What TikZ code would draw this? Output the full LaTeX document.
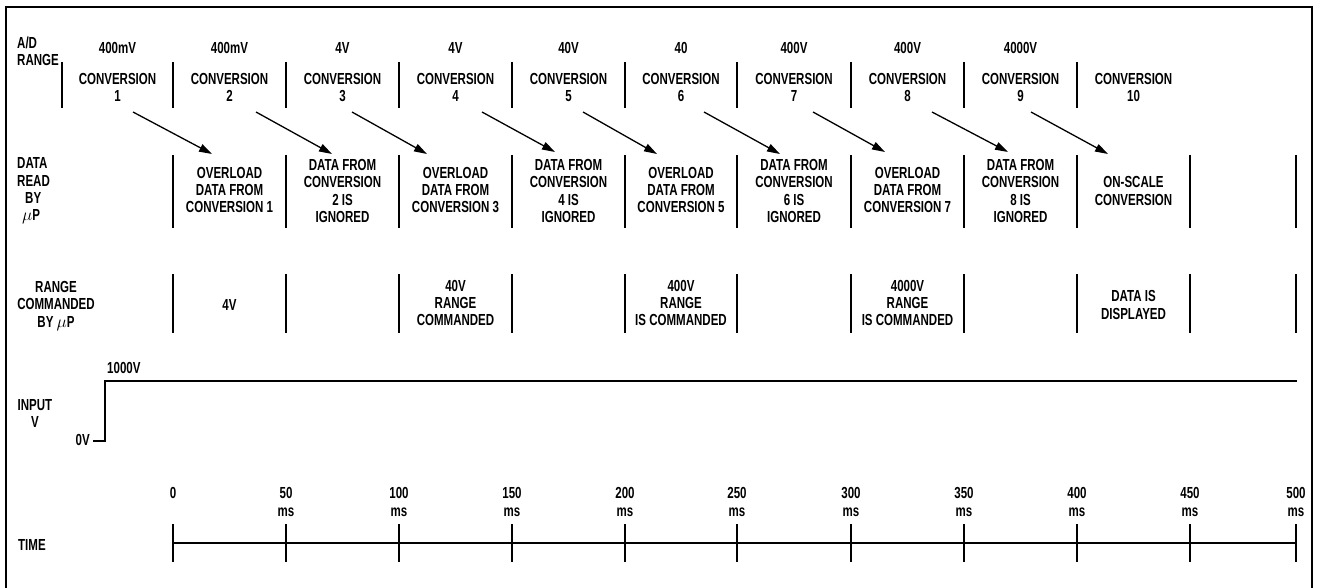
\documentclass[tikz,border=0pt]{standalone}
\usepackage{fontspec}
\setmainfont{Liberation Sans}[FakeStretch=0.72]
\usetikzlibrary{arrows.meta}
\begin{document}
\begin{tikzpicture}[x=1pt,y=-1pt,
  lbl/.style={font=\fontsize{16}{17.3}\selectfont\bfseries, inner sep=0pt, align=center},
  lbll/.style={font=\fontsize{16}{17.3}\selectfont\bfseries, inner sep=0pt, align=left},
  sep/.style={line width=1.9pt},
  frame/.style={line width=1.4pt},
  wave/.style={line width=1.5pt},
  conn/.style={line width=1.3pt, -{Triangle[length=13pt,width=8pt]}}]
\useasboundingbox (0,0) rectangle (1317,588);
% frame
\draw[frame] (6,588) -- (6,7) -- (1312,7) -- (1312,588);
% left labels
\node[lbll, anchor=west] (lAD) at (17,51) {A/D\\RANGE};
\node[lbll, anchor=west] (lDR) at (17,191) {DATA\\READ\\\hspace*{8pt}BY\\\hspace*{5pt}$\mu$P};
\node[lbl] (lRC) at (56,306) {RANGE\\COMMANDED\\BY $\mu$P};
\node[lbl] (lIN) at (35,413.5) {INPUT\\V};
\node[lbll, anchor=west] (lT) at (18,545) {TIME};
% row 1 separators
\foreach \x in {62,173,286,399,512,625,737,851,964,1077}
  \draw[sep] (\x,62) -- (\x,108);
% rows 2 and 3 separators
\foreach \x in {173,286,399,512,625,737,851,964,1077,1190,1296} {
  \draw[sep] (\x,155) -- (\x,228);
  \draw[sep] (\x,274) -- (\x,333);
}
% range values
\foreach \c/\t [count=\i] in {117.5/400mV,229.5/400mV,342.5/4V,455.5/4V,568.5/40V,681/40,794/400V,907.5/400V,1020.5/4000V}
  \node[lbl] (rng\i) at (\c,48) {\t};
% conversions
\foreach \c [count=\i] in {117.5,229.5,342.5,455.5,568.5,681,794,907.5,1020.5,1133.5}
  \node[lbl] (conv\i) at (\c,87.5) {CONVERSION\\\i};
% data read by uP
\node[lbl] (d1) at (229.5,190) {OVERLOAD\\DATA FROM\\CONVERSION 1};
\node[lbl] (d2) at (342.5,191) {DATA FROM\\CONVERSION\\2 IS\\IGNORED};
\node[lbl] (d3) at (455.5,190) {OVERLOAD\\DATA FROM\\CONVERSION 3};
\node[lbl] (d4) at (568.5,191) {DATA FROM\\CONVERSION\\4 IS\\IGNORED};
\node[lbl] (d5) at (681,190) {OVERLOAD\\DATA FROM\\CONVERSION 5};
\node[lbl] (d6) at (794,191) {DATA FROM\\CONVERSION\\6 IS\\IGNORED};
\node[lbl] (d7) at (907.5,190) {OVERLOAD\\DATA FROM\\CONVERSION 7};
\node[lbl] (d8) at (1020.5,191) {DATA FROM\\CONVERSION\\8 IS\\IGNORED};
\node[lbl] (d9) at (1133.5,191) {ON-SCALE\\CONVERSION};
% range commanded
\node[lbl] (r1) at (229.5,305) {4V};
\node[lbl] (r2) at (455.5,303) {40V\\RANGE\\COMMANDED};
\node[lbl] (r3) at (681,303) {400V\\RANGE\\IS COMMANDED};
\node[lbl] (r4) at (907.5,303) {4000V\\RANGE\\IS COMMANDED};
\node[lbl] (r5) at (1133.5,305) {DATA IS\\DISPLAYED};
% arrows
\foreach \sx/\ex/\ey [count=\i] in {133/212/154,256/332/154,352/427/154,482/555/152,583/657/154,704/780/154,813/885/152,932/1008/152,1031/1108/154} {
  \coordinate (as\i) at (\sx,112);
  \coordinate (ae\i) at (\ex,\ey);
  \draw[conn] (as\i) -- (ae\i);
}
% input waveform
\coordinate (v0) at (93,441);
\coordinate (v1) at (105,441);
\coordinate (v2) at (105,381);
\coordinate (v3) at (1297,381);
\draw[wave] (v0) -- (v1) -- (v2) -- (v3);
\node[lbl, anchor=east] (l0V) at (90,440) {0V};
\node[lbl, anchor=west] (l1000V) at (107,368) {1000V};
% time axis
\coordinate (t0) at (173,543);
\coordinate (t10) at (1296,543);
\draw[wave] (t0) -- (t10);
\foreach \x in {173,286,399,512,625,737,851,964,1077,1190,1296}
  \draw[sep] (\x,524) -- (\x,562);
\node[lbl] (tl0) at (173,493) {0};
\foreach \x/\t [count=\i] in {286/50,399/100,512/150,625/200,737/250,851/300,964/350,1077/400,1190/450,1296/500}
  \node[lbl, anchor=north] (tl\i) at (\x,487.5) {\t\\ms};
\end{tikzpicture}
\end{document}
